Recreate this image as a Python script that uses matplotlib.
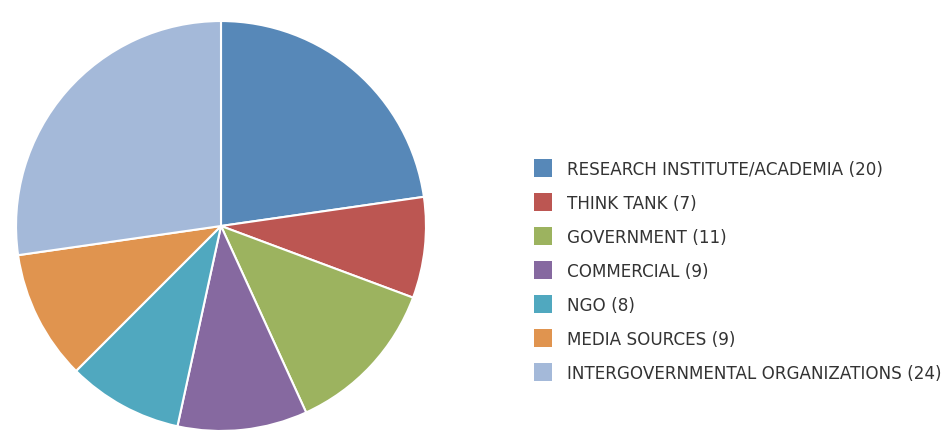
import matplotlib
matplotlib.use("Agg")
import matplotlib.pyplot as plt
from matplotlib.patches import Rectangle

categories = ["RESEARCH INSTITUTE/ACADEMIA", "THINK TANK", "GOVERNMENT", "COMMERCIAL",
              "NGO", "MEDIA SOURCES", "INTERGOVERNMENTAL ORGANIZATIONS"]
counts = [20, 7, 11, 9, 8, 9, 24]
colors = ["#5788B8", "#BC5652", "#9CB35F", "#8669A0", "#50A8BF", "#E0944F", "#A4B9D9"]

W, H = 947, 433
fig = plt.figure(figsize=(W / 100, H / 100), dpi=100)
fig.patch.set_facecolor("white")

ax = fig.add_axes([15 / W, 1 / H, 412 / W, 412 / H])
ax.pie(counts, colors=colors, startangle=90, counterclock=False,
       wedgeprops=dict(edgecolor="white", linewidth=1.5))
ax.set_aspect("equal")
ax.set_xlim(-1.005, 1.005)
ax.set_ylim(-1.005, 1.005)
ax.axis("off")

y0, dy = 168, 34
for i, (cat, n, c) in enumerate(zip(categories, counts, colors)):
    yc = y0 + i * dy
    fig.add_artist(Rectangle((534 / W, (H - yc - 9) / H), 18 / W, 18 / H,
                             transform=fig.transFigure, facecolor=c, edgecolor="none"))
    fig.text(567 / W, (H - yc) / H, f"{cat} ({n})", fontsize=12.1, color="#333333",
             va="center_baseline", ha="left", family="DejaVu Sans")

fig.savefig("out.png", dpi=100)
